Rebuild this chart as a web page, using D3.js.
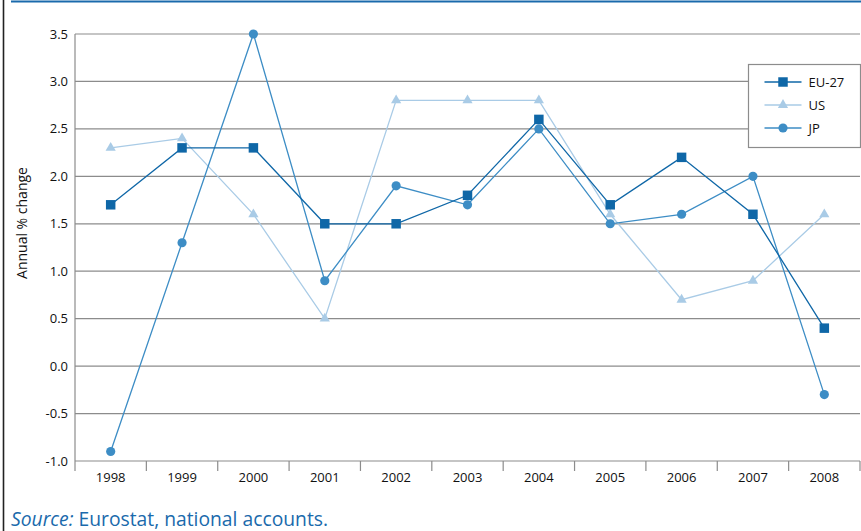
<!DOCTYPE html>
<html>
<head>
<meta charset="utf-8">
<script src="https://cdn.jsdelivr.net/npm/d3@7"></script>
<style>
  body { margin: 0; background: #fff; }
  svg { display: block; font-family: "Open Sans", "DejaVu Sans", sans-serif; }
</style>
</head>
<body>
<svg id="chart" width="861" height="531"></svg>
<script>
const years = ["1998", "1999", "2000", "2001", "2002", "2003", "2004", "2005", "2006", "2007", "2008"];
const eu27 = [1.7, 2.3, 2.3, 1.5, 1.5, 1.8, 2.6, 1.7, 2.2, 1.6, 0.4];
const us = [2.3, 2.4, 1.6, 0.5, 2.8, 2.8, 2.8, 1.6, 0.7, 0.9, 1.6];
const jp = [-0.9, 1.3, 3.5, 0.9, 1.9, 1.7, 2.5, 1.5, 1.6, 2.0, -0.3];
const y_ticks = [-1.0, -0.5, 0.0, 0.5, 1.0, 1.5, 2.0, 2.5, 3.0, 3.5];

const series = [
	{ name: "EU-27", values: eu27, color: "#0f67a7", shape: "square" },
	{ name: "US", values: us, color: "#a9cbe6", shape: "triangle" },
	{ name: "JP", values: jp, color: "#3d8dc5", shape: "circle" },
];

const svg = d3.select("#chart");
const plot_l = 75;
const plot_r = 860;
const plot_t = 34;
const plot_b = 461;

// frame lines
svg.append("line")
	.attr("x1", 3.5).attr("x2", 3.5).attr("y1", 0).attr("y2", 531)
	.attr("stroke", "#222").attr("stroke-width", 1.6);
svg.append("line")
	.attr("x1", 11).attr("x2", 861).attr("y1", 1.5).attr("y2", 1.5)
	.attr("stroke", "#1a6aac").attr("stroke-width", 2);

const x = d3.scaleBand().domain(years).range([plot_l, plot_r]);
const y = d3.scaleLinear().domain([-1, 3.5]).range([plot_b, plot_t]);

// gridlines
svg.append("g")
	.selectAll("line")
	.data(y_ticks)
	.join("line")
	.attr("x1", plot_l).attr("x2", plot_r)
	.attr("y1", (d) => y(d)).attr("y2", (d) => y(d))
	.attr("stroke", "#8c8c8c").attr("stroke-width", 1.2);

// y axis line
svg.append("line")
	.attr("x1", plot_l).attr("x2", plot_l).attr("y1", plot_t).attr("y2", plot_b)
	.attr("stroke", "#8c8c8c").attr("stroke-width", 1.2);

// y labels
svg.append("g")
	.attr("font-size", 13)
	.attr("text-anchor", "end")
	.attr("fill", "#111")
	.selectAll("text")
	.data(y_ticks)
	.join("text")
	.attr("x", plot_l - 7)
	.attr("y", (d) => y(d) + 4.5)
	.text((d) => d.toFixed(1));

// x ticks
const x_edges = years.map((d) => x(d)).concat([plot_r]);
svg.append("g")
	.selectAll("line")
	.data(x_edges)
	.join("line")
	.attr("x1", (d) => d).attr("x2", (d) => d)
	.attr("y1", plot_b).attr("y2", plot_b + 10)
	.attr("stroke", "#8c8c8c").attr("stroke-width", 1.2);

svg.append("g")
	.attr("font-size", 13)
	.attr("text-anchor", "middle")
	.attr("fill", "#111")
	.selectAll("text")
	.data(years)
	.join("text")
	.attr("x", (d) => x(d) + x.bandwidth() / 2)
	.attr("y", plot_b + 21)
	.text((d) => d);

// y axis title
svg.append("text")
	.attr("transform", "translate(27,223) rotate(-90)")
	.attr("text-anchor", "middle")
	.attr("font-size", 14)
	.attr("fill", "#111")
	.text("Annual % change");

const sym = {
	square: d3.symbol().type(d3.symbolSquare).size(90),
	triangle: d3.symbol().type(d3.symbolTriangle).size(45),
	circle: d3.symbol().type(d3.symbolCircle).size(66),
};

const line_gen = d3.line()
	.x((d, i) => x(years[i]) + x.bandwidth() / 2)
	.y((d) => y(d));

// draw US first so darker lines sit on top
const draw_order = [series[1], series[2], series[0]];
for (const s of draw_order) {
	svg.append("path")
		.datum(s.values)
		.attr("fill", "none")
		.attr("stroke", s.color)
		.attr("stroke-width", 1.3)
		.attr("d", line_gen);
	svg.append("g")
		.selectAll("path")
		.data(s.values)
		.join("path")
		.attr("transform", (d, i) => `translate(${x(years[i]) + x.bandwidth() / 2},${y(d)})`)
		.attr("d", sym[s.shape]())
		.attr("fill", s.color);
}

// legend
const lg = svg.append("g").attr("transform", "translate(748.5,64.5)");
lg.append("rect")
	.attr("width", 112).attr("height", 83)
	.attr("fill", "#fff").attr("stroke", "#8c8c8c").attr("stroke-width", 1.2);
const lg_rows = lg.selectAll("g")
	.data(series)
	.join("g")
	.attr("transform", (d, i) => `translate(0,${17.5 + i * 23})`);
lg_rows.append("line")
	.attr("x1", 16).attr("x2", 53)
	.attr("stroke", (d) => d.color).attr("stroke-width", 1.3);
lg_rows.append("path")
	.attr("transform", "translate(34.5,0)")
	.attr("d", (d) => sym[d.shape]())
	.attr("fill", (d) => d.color);
lg_rows.append("text")
	.attr("x", 60).attr("y", 5)
	.attr("font-size", 13)
	.attr("fill", "#111")
	.text((d) => d.name);

// source
const src = svg.append("text")
	.attr("x", 11).attr("y", 526)
	.attr("font-size", 19.3)
	.attr("fill", "#1a6aac");
src.append("tspan").attr("font-style", "italic").text("Source:");
src.append("tspan").text(" Eurostat, national accounts.");
</script>
</body>
</html>
